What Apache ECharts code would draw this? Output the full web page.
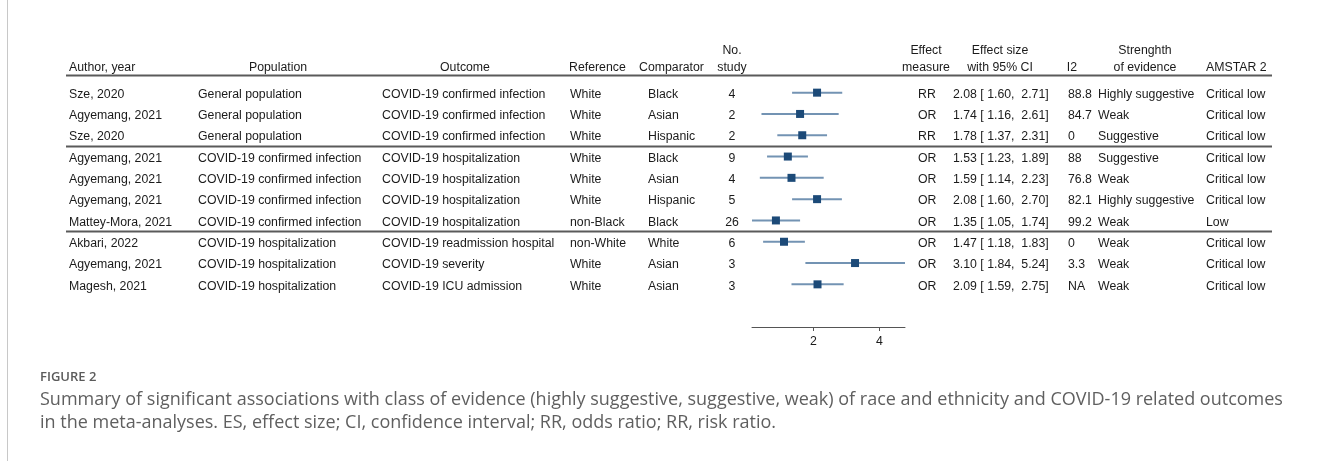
<!DOCTYPE html>
<html>
<head>
<meta charset="utf-8">
<style>
  html, body { margin: 0; padding: 0; background: #ffffff; }
  #chart { width: 1328px; height: 461px; }
</style>
<script src="https://cdn.jsdelivr.net/npm/echarts@6/dist/echarts.min.js"></script>
</head>
<body>
<div id="chart"></div>
<script>
// ---- table content ----
const authors = ["Sze, 2020", "Agyemang, 2021", "Sze, 2020", "Agyemang, 2021", "Agyemang, 2021",
  "Agyemang, 2021", "Mattey-Mora, 2021", "Akbari, 2022", "Agyemang, 2021", "Magesh, 2021"];
const populations = ["General population", "General population", "General population",
  "COVID-19 confirmed infection", "COVID-19 confirmed infection", "COVID-19 confirmed infection",
  "COVID-19 confirmed infection", "COVID-19 hospitalization", "COVID-19 hospitalization",
  "COVID-19 hospitalization"];
const outcomes = ["COVID-19 confirmed infection", "COVID-19 confirmed infection", "COVID-19 confirmed infection",
  "COVID-19 hospitalization", "COVID-19 hospitalization", "COVID-19 hospitalization",
  "COVID-19 hospitalization", "COVID-19 readmission hospital", "COVID-19 severity",
  "COVID-19 ICU admission"];
const references = ["White", "White", "White", "White", "White", "White", "non-Black", "non-White", "White", "White"];
const comparators = ["Black", "Asian", "Hispanic", "Black", "Asian", "Hispanic", "Black", "White", "Asian", "Asian"];
const nStudies = [4, 2, 2, 9, 4, 5, 26, 6, 3, 3];
const measures = ["RR", "OR", "RR", "OR", "OR", "OR", "OR", "OR", "OR", "OR"];
const effectSizes = [2.08, 1.74, 1.78, 1.53, 1.59, 2.08, 1.35, 1.47, 3.10, 2.09];
const ciLower = [1.60, 1.16, 1.37, 1.23, 1.14, 1.60, 1.05, 1.18, 1.84, 1.59];
const ciUpper = [2.71, 2.61, 2.31, 1.89, 2.23, 2.70, 1.74, 1.83, 5.24, 2.75];
const i2Values = ["88.8", "84.7", "0", "88", "76.8", "82.1", "99.2", "0", "3.3", "NA"];
const strengths = ["Highly suggestive", "Weak", "Suggestive", "Suggestive", "Weak",
  "Highly suggestive", "Weak", "Weak", "Weak", "Weak"];
const amstar = ["Critical low", "Critical low", "Critical low", "Critical low", "Critical low",
  "Critical low", "Low", "Critical low", "Critical low", "Critical low"];
const groups = [1, 1, 1, 2, 2, 2, 2, 3, 3, 3];
const xTicks = [2, 4];

const headerTop = ["", "", "", "", "", "No.", "Effect", "Effect size", "", "Strenghth", ""];
const headerBottom = ["Author, year", "Population", "Outcome", "Reference", "Comparator", "study",
  "measure", "with 95% CI", "I2", "of evidence", "AMSTAR 2"];

const captionLabel = "FIGURE 2";
const captionLines = [
  "Summary of significant associations with class of evidence (highly suggestive, suggestive, weak) of race and ethnicity and COVID-19 related outcomes",
  "in the meta-analyses. ES, effect size; CI, confidence interval; RR, odds ratio; RR, risk ratio."
];

// ---- layout ----
const FONT = "'Liberation Sans', Arial, sans-serif";
const FS = 12.3;
const TXT = "#1b1b1b";
const TEXT_DY = 1.8;   // optical centring of the table text within its row

// x position and alignment for each table column (the plot sits between No. study and Effect measure)
const rowCols = [
  { x: 69, align: "left" }, { x: 198, align: "left" }, { x: 382, align: "left" },
  { x: 570, align: "left" }, { x: 648, align: "left" }, { x: 732, align: "center" },
  { x: 918, align: "left" }, { x: 953, align: "left" }, { x: 1068, align: "left" },
  { x: 1098, align: "left" }, { x: 1206, align: "left" }
];
const headCols = [
  { x: 69, align: "left" }, { x: 278, align: "center" }, { x: 465, align: "center" },
  { x: 569, align: "left" }, { x: 639, align: "left" }, { x: 732, align: "center" },
  { x: 926, align: "center" }, { x: 1000, align: "center" }, { x: 1072, align: "center" },
  { x: 1145, align: "center" }, { x: 1206, align: "left" }
];
const tableLeft = 66, tableRight = 1272;

function fmt2(v) { return v.toFixed(2); }
function ciText(i) {
  return fmt2(effectSizes[i]) + " [ " + fmt2(ciLower[i]) + ",  " + fmt2(ciUpper[i]) + "]";
}
function rowTexts(i) {
  return [authors[i], populations[i], outcomes[i], references[i], comparators[i],
    String(nStudies[i]), measures[i], ciText(i), i2Values[i], strengths[i], amstar[i]];
}

const xMin = Math.min.apply(null, ciLower);
const xMax = Math.max.apply(null, ciUpper);
const rowIdx = authors.map((_, i) => i);

const chart = echarts.init(document.getElementById("chart"), null, { renderer: "canvas" });

const graphics = [];
// frame rule on the left edge
graphics.push({ type: "line", shape: { x1: 7.5, y1: 0, x2: 7.5, y2: 461 },
  style: { stroke: "#c8c8c8", lineWidth: 1 } });
// column headers
headCols.forEach((c, k) => {
  if (headerTop[k]) graphics.push({ type: "text", x: c.x, y: 49 + TEXT_DY,
    style: { text: headerTop[k], font: FS + "px " + FONT, fill: TXT, align: c.align, verticalAlign: "middle" } });
  graphics.push({ type: "text", x: c.x, y: 66 + TEXT_DY,
    style: { text: headerBottom[k], font: FS + "px " + FONT, fill: TXT, align: c.align, verticalAlign: "middle" } });
});
graphics.push({ type: "line", shape: { x1: tableLeft, y1: 75.5, x2: tableRight, y2: 75.5 },
  style: { stroke: "#5a5a5a", lineWidth: 2 } });
// caption
graphics.push({ type: "text", x: 40, y: 377,
  style: { text: captionLabel, font: "600 13px 'Open Sans', sans-serif", fill: "#5b5b5b", verticalAlign: "middle" } });
captionLines.forEach((t, k) => graphics.push({ type: "text", x: 40, y: 400 + k * 23,
  style: { text: t, font: "18px 'Open Sans', sans-serif", fill: "#5f5f5f", verticalAlign: "middle" } }));

const option = {
  animation: false,
  backgroundColor: "#ffffff",
  grid: { left: 752, width: 153, top: 82, height: 213, containLabel: false },
  xAxis: {
    type: "log",
    logBase: 2,
    min: xMin,
    max: xMax,
    offset: 32,
    splitLine: { show: false },
    axisLine: { show: true, lineStyle: { color: "#555555", width: 1 } },
    axisTick: { show: true, customValues: xTicks, length: 4, lineStyle: { color: "#555555" } },
    axisLabel: { show: true, customValues: xTicks, color: TXT, fontSize: FS, fontFamily: FONT, margin: 9 }
  },
  yAxis: {
    type: "category",
    inverse: true,
    data: rowIdx,
    show: false
  },
  graphic: graphics,
  series: [
    {
      // table rows and group separators
      type: "custom",
      name: "table",
      clip: false,
      silent: true,
      data: rowIdx.map(i => [xMin, i]),
      renderItem: function (params, api) {
        const i = api.value(1);
        const y = api.coord([xMin, i])[1];
        const band = api.size([0, 1])[1];
        const texts = rowTexts(i);
        const children = rowCols.map((c, k) => ({
          type: "text", x: c.x, y: y + TEXT_DY,
          style: { text: texts[k], font: FS + "px " + FONT, fill: TXT, align: c.align, verticalAlign: "middle" }
        }));
        if (i > 0 && groups[i] !== groups[i - 1]) {
          const ly = Math.round(y - band / 2) + 0.5;
          children.push({ type: "line", shape: { x1: tableLeft, y1: ly, x2: tableRight, y2: ly },
            style: { stroke: "#5a5a5a", lineWidth: 2 } });
        }
        return { type: "group", children: children };
      }
    },
    {
      // confidence intervals with point estimates
      type: "custom",
      name: "forest",
      clip: false,
      silent: true,
      data: rowIdx.map(i => [effectSizes[i], ciLower[i], ciUpper[i], i]),
      renderItem: function (params, api) {
        const i = api.value(3);
        const p = api.coord([api.value(0), i]);
        const a = api.coord([api.value(1), i]);
        const b = api.coord([api.value(2), i]);
        const s = 8;
        return {
          type: "group",
          children: [
            { type: "line", shape: { x1: a[0], y1: p[1], x2: b[0], y2: p[1] },
              style: { stroke: "#7393b3", lineWidth: 2 } },
            { type: "rect", shape: { x: p[0] - s / 2, y: p[1] - s / 2, width: s, height: s },
              style: { fill: "#1c4a78" } }
          ]
        };
      }
    }
  ]
};
chart.setOption(option);
</script>
</body>
</html>
